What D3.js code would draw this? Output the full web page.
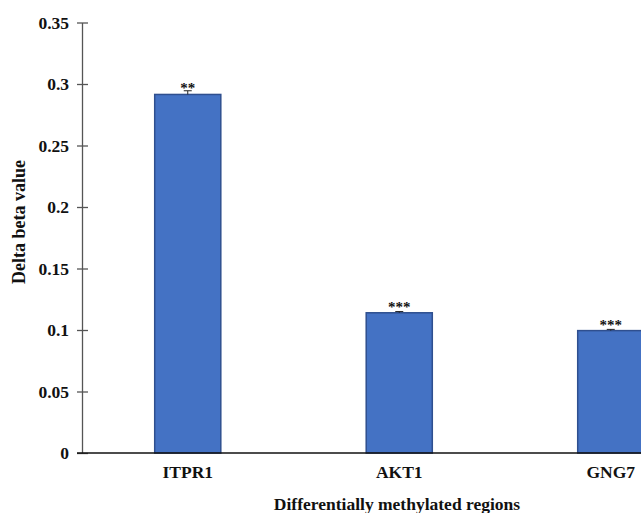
<!DOCTYPE html>
<html>
<head>
<meta charset="utf-8">
<script src="https://cdn.jsdelivr.net/npm/d3@7/dist/d3.min.js"></script>
<style>
  html, body { margin: 0; padding: 0; background: #fff; }
  svg { display: block; }
  text { font-family: "Liberation Serif", "Times New Roman", serif; font-weight: bold; fill: #111; }
</style>
</head>
<body>
<svg id="chart" width="641" height="513"></svg>
<script>
// Delta beta values per differentially methylated region
const regions = ["ITPR1", "AKT1", "GNG7"];
const deltaBeta = [0.2915, 0.114, 0.0995];
const errors = [0.003, 0.001, 0.001];
const significance = ["**", "***", "***"];
const yTicks = [0, 0.05, 0.1, 0.15, 0.2, 0.25, 0.3, 0.35];

const svg = d3.select("#chart");
const plotLeft = 82, plotBottom = 453, plotTop = 22.5;
const band = 211.5;

const x = d3.scaleBand()
  .domain(regions)
  .range([plotLeft, plotLeft + band * regions.length])
  .paddingInner(0.6875)
  .paddingOuter(0.34375);

const y = d3.scaleLinear().domain([0, 0.35]).range([plotBottom, plotTop]);

// bars
svg.append("g").selectAll("rect")
  .data(regions)
  .join("rect")
  .attr("x", (d) => x(d))
  .attr("y", (d, i) => y(deltaBeta[i]))
  .attr("width", x.bandwidth())
  .attr("height", (d, i) => y(0) - y(deltaBeta[i]))
  .attr("fill", "#4472C4")
  .attr("stroke", "#2F4F8F")
  .attr("stroke-width", 1.5);

// error bars
const eb = svg.append("g").attr("stroke", "#222").attr("stroke-width", 1);
regions.forEach((d, i) => {
  const cx = x(d) + x.bandwidth() / 2;
  const hi = y(deltaBeta[i] + errors[i]);
  const mid = y(deltaBeta[i]);
  eb.append("line").attr("x1", cx).attr("x2", cx).attr("y1", hi).attr("y2", mid);
  eb.append("line").attr("x1", cx - 4).attr("x2", cx + 4).attr("y1", hi).attr("y2", hi);
});

// significance marks above each bar
svg.append("g").selectAll("text")
  .data(regions)
  .join("text")
  .attr("x", (d) => x(d) + x.bandwidth() / 2)
  .attr("y", (d, i) => y(deltaBeta[i]) - 1)
  .attr("text-anchor", "middle")
  .attr("font-size", 15)
  .text((d, i) => significance[i]);

// y axis
const yAxis = svg.append("g")
  .attr("transform", `translate(${plotLeft},0)`)
  .call(d3.axisLeft(y).tickValues(yTicks).tickSize(0).tickPadding(13)
    .tickFormat((d) => d === 0 ? "0" : String(+d.toFixed(2))));
yAxis.select(".domain").attr("stroke", "#555").attr("stroke-width", 1.3);
yAxis.selectAll(".tick text").attr("font-size", 17.5).attr("font-family", "Liberation Serif").attr("font-weight", "bold").attr("fill", "#111");
yAxis.selectAll(".tick").append("line")
  .attr("x1", -5).attr("x2", 6).attr("stroke", "#555").attr("stroke-width", 1.3);

// x axis
const xAxis = svg.append("g")
  .attr("transform", `translate(0,${plotBottom})`)
  .call(d3.axisBottom(x).tickSize(0).tickPadding(13));
xAxis.select(".domain").remove();
xAxis.append("line").attr("x1", plotLeft - 5).attr("x2", 641).attr("stroke", "#111").attr("stroke-width", 1.3);
xAxis.selectAll(".tick text").attr("font-size", 17.5).attr("font-family", "Liberation Serif").attr("font-weight", "bold").attr("fill", "#111");

// axis titles
svg.append("text")
  .attr("x", 397).attr("y", 510)
  .attr("text-anchor", "middle")
  .attr("font-size", 17.5)
  .text("Differentially methylated regions");

svg.append("text")
  .attr("transform", "translate(25,222) rotate(-90)")
  .attr("text-anchor", "middle")
  .attr("font-size", 18)
  .text("Delta beta value");
</script>
</body>
</html>
